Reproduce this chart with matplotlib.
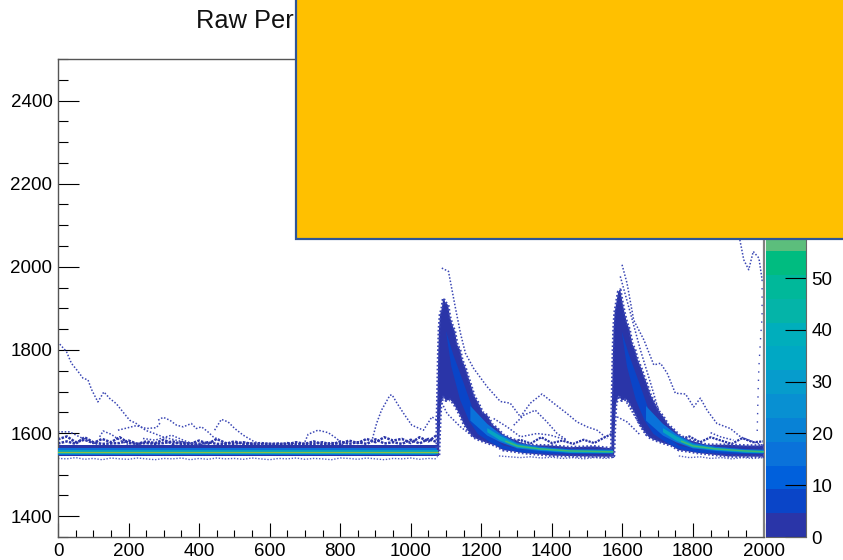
import matplotlib
matplotlib.use('Agg')
import matplotlib.pyplot as plt
from matplotlib.colors import ListedColormap, BoundaryNorm
from matplotlib.patches import Rectangle
from matplotlib.ticker import MultipleLocator

plt.rcParams['font.family'] = ['Liberation Sans', 'DejaVu Sans']

# flat baseline before the first pulse
base_x = [0, 1078]
base_hi = [1572, 1572]
base_lo = [1544, 1544]
band_hi = [1564, 1564]
band_lo = [1547, 1547]
teal_hi = [1559, 1559]
teal_lo = [1550, 1550]
core_y = [1554.5, 1554.5]

# scatter just above and below the baseline
noise_x = [0, 25, 50, 75, 100, 125, 150, 175, 200, 225, 250, 275, 300, 325, 350, 375, 400, 425, 450, 475, 500,
           525, 550, 575, 600, 625, 650, 675, 700, 725, 750, 775, 800, 825, 850, 875, 900, 925, 950, 975, 1000,
           1025, 1050, 1075]
noise_a = [1585, 1592, 1578, 1584, 1576, 1586, 1578, 1590, 1576, 1574, 1580, 1576, 1584, 1574, 1578, 1574, 1582,
           1574, 1586, 1576, 1574, 1578, 1574, 1576, 1574, 1575, 1573, 1578, 1574, 1580, 1573, 1576, 1574, 1582,
           1576, 1586, 1578, 1590, 1582, 1586, 1576, 1590, 1580, 1596]
noise_b = [1575, 1580, 1574, 1590, 1578, 1574, 1575, 1576, 1582, 1574, 1576, 1574, 1576, 1580, 1574, 1574, 1573,
           1578, 1574, 1574, 1580, 1574, 1575, 1573, 1574, 1572, 1576, 1573, 1574, 1574, 1578, 1572, 1580, 1574,
           1578, 1574, 1585, 1575, 1578, 1574, 1584, 1575, 1586, 1578]
under_a = [1539, 1538, 1541, 1537, 1539, 1536, 1540, 1538, 1537, 1540, 1538, 1536, 1539, 1538, 1540, 1536, 1539,
           1537, 1540, 1538, 1539, 1537, 1540, 1538, 1536, 1539, 1538, 1540, 1537, 1539, 1538, 1536, 1540, 1539,
           1537, 1540, 1538, 1536, 1539, 1538, 1540, 1537, 1539, 1538]

noise2_x = [1250, 1280, 1310, 1340, 1370, 1400, 1430, 1460, 1490, 1520, 1550, 1570]
noise2_y = [1590, 1578, 1584, 1575, 1590, 1576, 1582, 1574, 1584, 1576, 1590, 1598]
noise2_u = [1545, 1543, 1541, 1543, 1540, 1542, 1539, 1541, 1538, 1541, 1539, 1541]
noise3_x = [1760, 1790, 1820, 1850, 1880, 1910, 1940, 1970, 2000]
noise3_y = [1584, 1592, 1578, 1590, 1582, 1574, 1588, 1578, 1580]
noise3_u = [1545, 1541, 1543, 1539, 1541, 1538, 1541, 1539, 1541]

# first pulse, outlines go up the left side, down the top, back along the bottom
plume1_x = [1074, 1074, 1076, 1078, 1080, 1083, 1088, 1092, 1098, 1106, 1111, 1118, 1125, 1132, 1140, 1146, 1156,
            1163, 1169, 1180, 1192, 1204, 1217, 1232, 1245, 1262, 1282, 1310, 1339, 1400, 1452, 1520, 1573,
            1573, 1480, 1400, 1319, 1290, 1262, 1240, 1217, 1195, 1177, 1162, 1149, 1140, 1132, 1122, 1112, 1100,
            1092, 1086, 1084, 1082, 1080]
plume1_y = [1545, 1620, 1700, 1790, 1850, 1885, 1900, 1925, 1915, 1908, 1880, 1860, 1845, 1812, 1800, 1776, 1755,
            1735, 1720, 1690, 1672, 1650, 1643, 1620, 1612, 1596, 1588, 1578, 1571, 1570, 1566, 1568, 1563,
            1543, 1544, 1546, 1552, 1556, 1559, 1570, 1576, 1583, 1590, 1606, 1624, 1642, 1655, 1670, 1680, 1678,
            1687, 1670, 1640, 1600, 1545]
plume1a_x = [1100, 1120, 1150, 1175, 1200, 1230, 1262, 1320, 1400, 1573,
             1573, 1400, 1320, 1262, 1225, 1190, 1165, 1140, 1115]
plume1a_y = [1845, 1790, 1720, 1660, 1625, 1590, 1570, 1560, 1557, 1556,
             1550, 1550, 1553, 1562, 1578, 1598, 1630, 1680, 1760]
plume1b_x = [1169, 1217, 1254, 1302, 1367, 1452, 1573,
             1573, 1452, 1367, 1302, 1254, 1217, 1169]
plume1b_y = [1665, 1622, 1598, 1576, 1567, 1561, 1560,
             1551, 1552, 1557, 1563, 1578, 1594, 1630]
plume1c_x = [1217, 1254, 1302, 1367, 1452, 1573,
             1573, 1452, 1367, 1302, 1254, 1217]
plume1c_y = [1612, 1593, 1573, 1564, 1559, 1558,
             1552, 1553, 1559, 1565, 1582, 1602]
core1_x = [1270, 1302, 1367, 1452, 1573]
core1_y = [1580, 1569, 1562, 1557, 1555]

# second pulse
plume2_x = [1569, 1569, 1571, 1573, 1575, 1578, 1583, 1588, 1594, 1600, 1606, 1613, 1620, 1628, 1636, 1644, 1654,
            1662, 1668, 1680, 1692, 1704, 1716, 1730, 1744, 1760, 1782, 1810, 1840, 1900, 1950, 2000,
            2000, 1900, 1815, 1786, 1760, 1738, 1715, 1692, 1675, 1660, 1647, 1638, 1630, 1620, 1610, 1598,
            1590, 1582, 1580, 1578, 1576]
plume2_y = [1545, 1620, 1700, 1790, 1850, 1890, 1915, 1940, 1945, 1915, 1890, 1865, 1850, 1815, 1800, 1775, 1755,
            1735, 1722, 1692, 1672, 1652, 1640, 1620, 1610, 1596, 1586, 1578, 1572, 1572, 1570, 1570,
            1543, 1544, 1552, 1556, 1559, 1570, 1576, 1583, 1590, 1606, 1624, 1642, 1655, 1670, 1682, 1678,
            1690, 1670, 1640, 1600, 1545]
plume2a_x = [1598, 1618, 1648, 1673, 1698, 1728, 1760, 1818, 1900, 2000,
             2000, 1900, 1818, 1760, 1723, 1688, 1663, 1638, 1613]
plume2a_y = [1845, 1790, 1720, 1660, 1625, 1590, 1570, 1560, 1557, 1556,
             1550, 1550, 1553, 1562, 1578, 1598, 1630, 1680, 1760]
plume2b_x = [1667, 1715, 1752, 1800, 1865, 1950, 2000,
             2000, 1950, 1865, 1800, 1752, 1715, 1667]
plume2b_y = [1665, 1622, 1598, 1576, 1567, 1561, 1560,
             1551, 1552, 1557, 1563, 1578, 1594, 1630]
plume2c_x = [1715, 1752, 1800, 1865, 1950, 2000,
             2000, 1950, 1865, 1800, 1752, 1715]
plume2c_y = [1612, 1593, 1573, 1564, 1559, 1558,
             1552, 1553, 1559, 1565, 1582, 1602]
core2_x = [1768, 1800, 1865, 1950, 2000]
core2_y = [1580, 1569, 1562, 1557, 1555]

# single waveforms left as sparse dots
traces = [
    ([5, 24, 38, 57, 71, 85, 95, 113, 130, 147, 165, 184, 203, 222, 241, 250, 270, 300, 330, 364, 421],
     [1814, 1796, 1768, 1748, 1732, 1728, 1705, 1675, 1699, 1683, 1671, 1651, 1631, 1623, 1611, 1606, 1600, 1590, 1584, 1577, 1575]),
    ([284, 298, 317, 336, 355, 378, 392, 407, 425, 440, 459, 478],
     [1631, 1638, 1631, 1619, 1615, 1623, 1611, 1615, 1603, 1591, 1583, 1571]),
    ([444, 463, 482, 501, 525, 553, 581],
     [1607, 1633, 1627, 1611, 1595, 1581, 1571]),
    ([170, 199, 222, 250, 279, 290],
     [1607, 1613, 1618, 1611, 1613, 1625]),
    ([118, 128, 151, 175, 203],
     [1591, 1605, 1597, 1583, 1571]),
    ([0, 33, 61, 90, 118],
     [1603, 1603, 1591, 1579, 1571]),
    ([241, 275, 322, 355, 392, 430],
     [1587, 1583, 1595, 1583, 1571, 1576]),
    ([700, 709, 737, 766, 790, 809],
     [1579, 1597, 1607, 1601, 1587, 1571]),
    ([889, 903, 917, 941, 947, 961, 980, 1003, 1036, 1060, 1074],
     [1579, 1623, 1655, 1691, 1692, 1672, 1647, 1619, 1607, 1639, 1631]),
    ([1088, 1107, 1126, 1141, 1155, 1178, 1216, 1254, 1282, 1311, 1339, 1372, 1405, 1443, 1471, 1500, 1528, 1557],
     [1997, 1989, 1904, 1840, 1792, 1756, 1712, 1676, 1672, 1639, 1672, 1694, 1672, 1647, 1627, 1615, 1607, 1587]),
    ([1292, 1320, 1353, 1386, 1415, 1443],
     [1619, 1643, 1655, 1627, 1599, 1583]),
    ([1084, 1103, 1141, 1178],
     [1680, 1647, 1615, 1591]),
    ([1235, 1273, 1311, 1358, 1396, 1443],
     [1635, 1615, 1591, 1599, 1595, 1583]),
    ([1599, 1613, 1632, 1661, 1689, 1708, 1727, 1750, 1779, 1802, 1821, 1840, 1868, 1906, 1935, 1996],
     [2005, 1961, 1872, 1824, 1764, 1768, 1744, 1696, 1694, 1663, 1684, 1655, 1623, 1611, 1591, 1571]),
    ([1594, 1623, 1651, 1680, 1708],
     [1977, 1888, 1800, 1720, 1639]),
    ([1590, 1613, 1642, 1670],
     [1700, 1672, 1631, 1591]),
    ([1585, 1613, 1651],
     [1639, 1627, 1595]),
    ([1850, 1878, 1915],
     [1601, 1591, 1583]),
    ([1933, 1944, 1958, 1971, 1987, 1996],
     [2065, 2017, 1993, 2037, 2021, 1969]),
]
edge_x = [1996, 1996, 1992, 1987, 1985, 1982]
edge_y = [1969, 1880, 1832, 1760, 1708, 1599]

# palette z axis
cbar_edges = [0, 4.6, 9.2, 13.8, 18.4, 23.0, 27.6, 32.2, 36.8, 41.4, 46.0, 50.6, 55.2, 59.8, 92.3]
cbar_colors = ['#2a35a8', '#0a45c8', '#0060dc', '#0a72da', '#0882d6', '#0890d2', '#069ccc', '#00a8c4',
               '#00aebc', '#04b4a8', '#00b89a', '#00bc80', '#5cbe7c', '#8cbc60']
cbar_ticks = [0, 10, 20, 30, 40, 50]

x_major = [0, 200, 400, 600, 800, 1000, 1200, 1400, 1600, 1800, 2000]
y_major = [1400, 1600, 1800, 2000, 2200, 2400]

W, H = 843, 560
fig = plt.figure(figsize=(W / 100, H / 100), dpi=100)
ax = fig.add_axes([58 / W, (H - 537) / H, 705.5 / W, 478 / H])

dark = '#2a35a8'
dots = '#3a46b4'
ax.fill_between(base_x, base_lo, base_hi, color=dark, lw=0, zorder=2)
ax.fill_between(base_x, band_lo, band_hi, color='#0a72da', lw=0, zorder=3)
ax.fill_between(base_x, teal_lo, teal_hi, color='#06a4c0', lw=0, zorder=4)
ax.plot(base_x, core_y, color='#8cc040', lw=0.9, zorder=6)

for yy in (noise_a, noise_b):
    ax.plot(noise_x, yy, color=dark, lw=1.8, ls=(0, (1, 0.5)), zorder=2)
ax.plot(noise_x, under_a, color='#5560c0', lw=1.0, ls=(0, (1, 1.2)), zorder=2)
ax.plot(noise2_x, noise2_y, color=dark, lw=1.6, ls=(0, (1, 0.5)), zorder=2)
ax.plot(noise3_x, noise3_y, color=dark, lw=1.6, ls=(0, (1, 0.5)), zorder=2)
ax.plot(noise2_x, noise2_u, color='#5560c0', lw=1.0, ls=(0, (1, 1.2)), zorder=2)
ax.plot(noise3_x, noise3_u, color='#5560c0', lw=1.0, ls=(0, (1, 1.2)), zorder=2)

plumes = [(plume1_x, plume1_y, plume1a_x, plume1a_y, plume1b_x, plume1b_y, plume1c_x, plume1c_y, core1_x, core1_y),
          (plume2_x, plume2_y, plume2a_x, plume2a_y, plume2b_x, plume2b_y, plume2c_x, plume2c_y, core2_x, core2_y)]
for px, py, ax_, ay_, bx, by, cx, cy, kx, ky in plumes:
    ax.fill(px, py, color=dark, lw=0, zorder=3)
    # dotted stroke on the outline gives the grainy edge
    ax.plot(px + px[:1], py + py[:1], color=dots, lw=2.0, ls=(0, (0.6, 0.8)), zorder=3)
    ax.fill(ax_, ay_, color='#0a45c8', lw=0, zorder=4)
    ax.fill(bx, by, color='#0a72da', lw=0, zorder=5)
    ax.fill(cx, cy, color='#06a4c0', lw=0, zorder=6)
    ax.plot(kx, ky, color='#40ba70', lw=1.0, zorder=7)

for tx, ty in traces:
    ax.plot(tx, ty, color=dots, lw=1.1, ls=(0, (1, 1.2)), zorder=2)
ax.plot(edge_x, edge_y, color=dots, lw=1.0, ls=(0, (1, 5)), zorder=2)

ax.set_xlim(0, 2000)
ax.set_ylim(1350, 2500)
ax.set_xticks(x_major)
ax.set_yticks(y_major)
ax.xaxis.set_minor_locator(MultipleLocator(50))
ax.yaxis.set_minor_locator(MultipleLocator(50))
ax.tick_params(axis='x', which='major', direction='in', length=10, width=0.8, labelsize=13.5, pad=4)
ax.tick_params(axis='x', which='minor', direction='in', length=5, width=0.8)
ax.tick_params(axis='y', which='major', direction='in', length=15, width=0.8, labelsize=13.5, pad=4)
ax.tick_params(axis='y', which='minor', direction='in', length=7.5, width=0.8)
for s in ax.spines.values():
    s.set_color('#555555')
    s.set_linewidth(1.0)
ax.spines['right'].set_linewidth(1.6)
ax.spines['right'].set_color('#808080')

# z palette
cax = fig.add_axes([766 / W, (H - 537) / H, 40 / W, 478 / H])
cmap = ListedColormap(cbar_colors)
norm = BoundaryNorm(cbar_edges, cmap.N)
cax.pcolormesh([0, 1], cbar_edges, [[c] for c in cbar_edges[:-1]], cmap=cmap, norm=norm)
cax.set_xticks([])
cax.set_ylim(0, 92.3)
cax.yaxis.tick_right()
cax.set_yticks(cbar_ticks)
cax.tick_params(axis='y', direction='in', length=15, width=0.8, labelsize=13.5, pad=4)
for name, s in cax.spines.items():
    s.set_visible(name in ('right', 'bottom'))
    s.set_color('#666666')

fig.text(196 / W, 1 - 21 / H, 'Raw Per', fontsize=18.3, ha='left', va='center', color='#111111')

# orange block over the top right corner
fig.add_artist(Rectangle((296 / W, (H - 239) / H), 560 / W, 250 / H, transform=fig.transFigure,
                         facecolor='#FFC000', edgecolor='#2F5597', linewidth=1.6, zorder=20))

fig.savefig('out.png', dpi=100)
